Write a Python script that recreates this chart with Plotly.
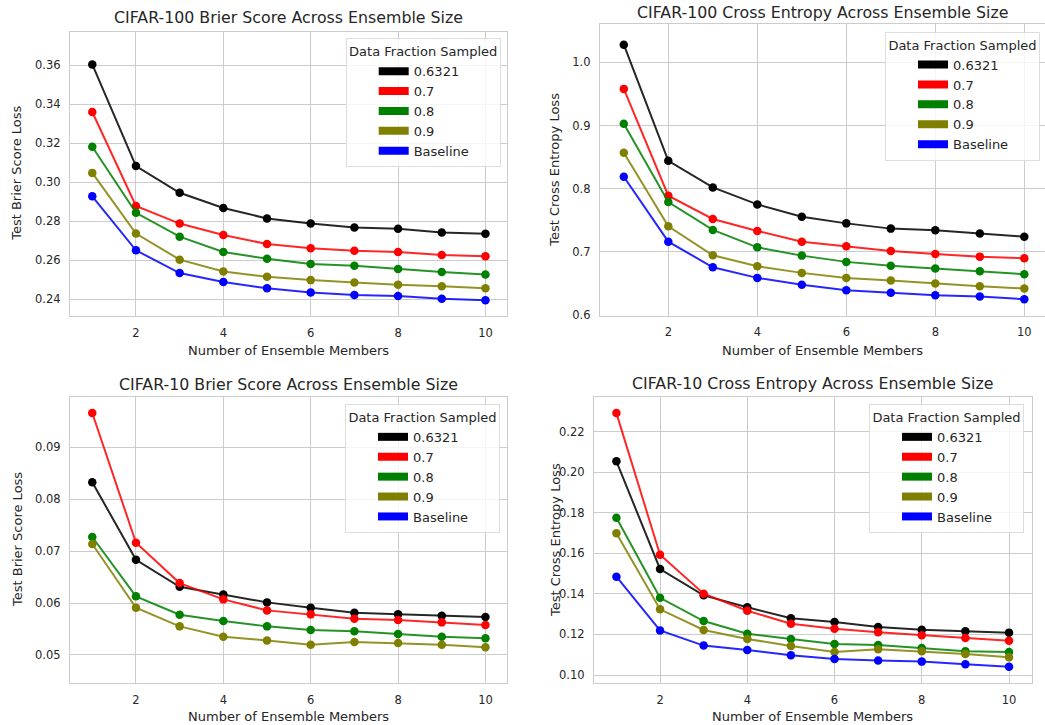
import plotly.graph_objects as go

# Figure laid out in reference pixels; body margin is removed in the page.
W, H = 1045, 725


def px(x):
    return x / W


def py(y):
    return 1 - y / H


ensemble_sizes = [1, 2, 3, 4, 5, 6, 7, 8, 9, 10]
series_names = ["0.6321", "0.7", "0.8", "0.9", "Baseline"]
series_colors = ["#000000", "#ff0000", "#008000", "#808000", "#0000ff"]
line_colors = ["rgba(0,0,0,0.85)", "rgba(255,0,0,0.85)", "rgba(0,128,0,0.85)",
               "rgba(128,128,0,0.85)", "rgba(0,0,255,0.85)"]

# CIFAR-100 Brier score
c100_brier_06321 = [0.3603, 0.3082, 0.2945, 0.2867, 0.2813, 0.2787, 0.2767, 0.2760, 0.2741, 0.2735]
c100_brier_07 = [0.3359, 0.2877, 0.2787, 0.2728, 0.2682, 0.2660, 0.2648, 0.2641, 0.2626, 0.2619]
c100_brier_08 = [0.3181, 0.2842, 0.2720, 0.2641, 0.2607, 0.2580, 0.2571, 0.2554, 0.2539, 0.2526]
c100_brier_09 = [0.3047, 0.2736, 0.2602, 0.2541, 0.2514, 0.2497, 0.2485, 0.2473, 0.2466, 0.2455]
c100_brier_base = [0.2927, 0.2650, 0.2533, 0.2487, 0.2455, 0.2434, 0.2421, 0.2416, 0.2402, 0.2394]

# CIFAR-100 cross entropy
c100_ce_06321 = [1.0278, 0.8442, 0.8021, 0.7752, 0.7558, 0.7452, 0.7369, 0.7342, 0.7290, 0.7242]
c100_ce_07 = [0.9579, 0.7889, 0.7521, 0.7332, 0.7163, 0.7089, 0.7016, 0.6969, 0.6926, 0.6900]
c100_ce_08 = [0.9026, 0.7790, 0.7348, 0.7073, 0.6942, 0.6843, 0.6780, 0.6737, 0.6695, 0.6647]
c100_ce_09 = [0.8568, 0.7405, 0.6947, 0.6774, 0.6669, 0.6590, 0.6548, 0.6500, 0.6458, 0.6421]
c100_ce_base = [0.8189, 0.7163, 0.6758, 0.6590, 0.6480, 0.6395, 0.6354, 0.6316, 0.6295, 0.6253]

# CIFAR-10 Brier score (no baseline line drawn)
c10_brier_06321 = [0.08326, 0.06834, 0.06314, 0.06167, 0.06013, 0.05910, 0.05813, 0.05782, 0.05755, 0.05730]
c10_brier_07 = [0.09661, 0.07162, 0.06385, 0.06071, 0.05859, 0.05782, 0.05698, 0.05672, 0.05628, 0.05576]
c10_brier_08 = [0.07272, 0.06129, 0.05775, 0.05653, 0.05551, 0.05480, 0.05455, 0.05403, 0.05351, 0.05320]
c10_brier_09 = [0.07137, 0.05910, 0.05551, 0.05351, 0.05281, 0.05197, 0.05248, 0.05229, 0.05197, 0.05147]
c10_brier_base = []

# CIFAR-10 cross entropy
c10_ce_06321 = [0.2054, 0.1523, 0.1393, 0.1334, 0.1280, 0.1261, 0.1237, 0.1223, 0.1216, 0.1209]
c10_ce_07 = [0.2292, 0.1593, 0.1401, 0.1317, 0.1253, 0.1228, 0.1211, 0.1196, 0.1182, 0.1169]
c10_ce_08 = [0.1776, 0.1381, 0.1266, 0.1204, 0.1178, 0.1153, 0.1148, 0.1133, 0.1117, 0.1113]
c10_ce_09 = [0.1699, 0.1324, 0.1222, 0.1178, 0.1143, 0.1113, 0.1127, 0.1117, 0.1104, 0.1087]
c10_ce_base = [0.1485, 0.1220, 0.1145, 0.1123, 0.1097, 0.1079, 0.1071, 0.1066, 0.1053, 0.1041]

titles = ["CIFAR-100 Brier Score Across Ensemble Size",
          "CIFAR-100 Cross Entropy Across Ensemble Size",
          "CIFAR-10 Brier Score Across Ensemble Size",
          "CIFAR-10 Cross Entropy Across Ensemble Size"]
y_titles = ["Test Brier Score Loss", "Test Cross Entropy Loss",
            "Test Brier Score Loss", "Test Cross Entropy Loss"]
x_title = "Number of Ensemble Members"
legend_title = "Data Fraction Sampled"
x_ticks = [2, 4, 6, 8, 10]
y_ticks = [[0.24, 0.26, 0.28, 0.30, 0.32, 0.34, 0.36],
           [0.6, 0.7, 0.8, 0.9, 1.0],
           [0.05, 0.06, 0.07, 0.08, 0.09],
           [0.10, 0.12, 0.14, 0.16, 0.18, 0.20, 0.22]]
y_formats = [".2f", ".1f", ".2f", ".2f"]

panels = [
    [c100_brier_06321, c100_brier_07, c100_brier_08, c100_brier_09, c100_brier_base],
    [c100_ce_06321, c100_ce_07, c100_ce_08, c100_ce_09, c100_ce_base],
    [c10_brier_06321, c10_brier_07, c10_brier_08, c10_brier_09, c10_brier_base],
    [c10_ce_06321, c10_ce_07, c10_ce_08, c10_ce_09, c10_ce_base],
]

# layout in reference pixels: (left, right, top, bottom)
boxes = [(70, 507.3, 31.7, 316), (600, 1045, 24, 315.5),
         (70, 507.3, 397.3, 682.7), (594, 1031.7, 397.3, 682.7)]
x_ranges = [[0.49, 10.5], [0.465, 10.465], [0.49, 10.5], [0.486, 10.52]]
y_ranges = [[0.2313, 0.3771], [0.5995, 1.0605], [0.04466, 0.09963], [0.0962, 0.2370]]
title_y = [18, 12, 385, 383]
xlabel_y = [350.7, 350.7, 716.7, 716.7]
ylabel_x = [17, 555, 17, 555]
legend_pos = [(500.7, 38.3), (1040, 31.7), (500, 404), (1024, 404)]

FONT = "DejaVu Sans"
TXT = "#262626"
GRID = "#cccccc"

fig = go.Figure()
layout = dict(width=W, height=H, margin=dict(l=0, r=0, t=0, b=0),
              plot_bgcolor="white", paper_bgcolor="white",
              font=dict(family=FONT, color=TXT, size=11), annotations=[])

for i, data in enumerate(panels):
    sfx = "" if i == 0 else str(i + 1)
    xa, ya = "x" + sfx, "y" + sfx
    leg = "legend" if i == 0 else "legend" + str(i + 1)
    for name, vals, col, lcol in zip(series_names, data, series_colors, line_colors):
        if len(vals) > 0:
            fig.add_trace(go.Scatter(x=ensemble_sizes[:len(vals)], y=vals, mode="lines+markers",
                                     line=dict(color=lcol, width=2),
                                     marker=dict(color=col, size=8.5),
                                     xaxis=xa, yaxis=ya, showlegend=False))
        fig.add_trace(go.Scatter(x=[None], y=[None], mode="lines", name=name,
                                 line=dict(color=col, width=8),
                                 xaxis=xa, yaxis=ya, legend=leg, showlegend=True))
    l, r, t, b = boxes[i]
    axcommon = dict(showgrid=True, gridcolor=GRID, gridwidth=1, zeroline=False,
                    showline=True, linecolor=GRID, linewidth=1.2, mirror=True,
                    ticks="outside", ticklen=6, tickcolor="rgba(0,0,0,0)",
                    tickfont=dict(family=FONT, size=11.5, color=TXT), automargin=False)
    layout["xaxis" + sfx] = dict(domain=[px(l), min(px(r), 1.0)], range=x_ranges[i],
                                 tickvals=x_ticks, anchor=ya, **axcommon)
    layout["yaxis" + sfx] = dict(domain=[py(b), py(t)], range=y_ranges[i],
                                 tickvals=y_ticks[i], tickformat=y_formats[i],
                                 anchor=xa, **axcommon)
    lx, ly = legend_pos[i]
    layout[leg] = dict(x=px(lx), y=py(ly), xanchor="right", yanchor="top",
                       xref="paper", yref="paper",
                       bgcolor="rgba(255,255,255,0.8)", bordercolor="#dddddd", borderwidth=1,
                       font=dict(family=FONT, size=13, color=TXT),
                       title=dict(text=legend_title, side="top center",
                                  font=dict(family=FONT, size=13, color=TXT)),
                       itemwidth=30, tracegroupgap=0, indentation=27)
    cx = (l + r) / 2
    layout["annotations"] += [
        dict(text=titles[i], x=px(cx), y=py(title_y[i]), xref="paper", yref="paper",
             showarrow=False, xanchor="center", yanchor="middle",
             font=dict(family=FONT, size=15.8, color=TXT)),
        dict(text=x_title, x=px(cx), y=py(xlabel_y[i]), xref="paper", yref="paper",
             showarrow=False, xanchor="center", yanchor="middle",
             font=dict(family=FONT, size=13, color=TXT)),
        dict(text=y_titles[i], x=px(ylabel_x[i]), y=py((t + b) / 2), xref="paper",
             yref="paper", showarrow=False, xanchor="center", yanchor="middle",
             textangle=-90, font=dict(family=FONT, size=13, color=TXT)),
    ]

fig.update_layout(**layout)
fig.write_html("out.html", config={"displayModeBar": False},
               post_script="document.body.style.margin='0';document.body.style.overflow='hidden';")
